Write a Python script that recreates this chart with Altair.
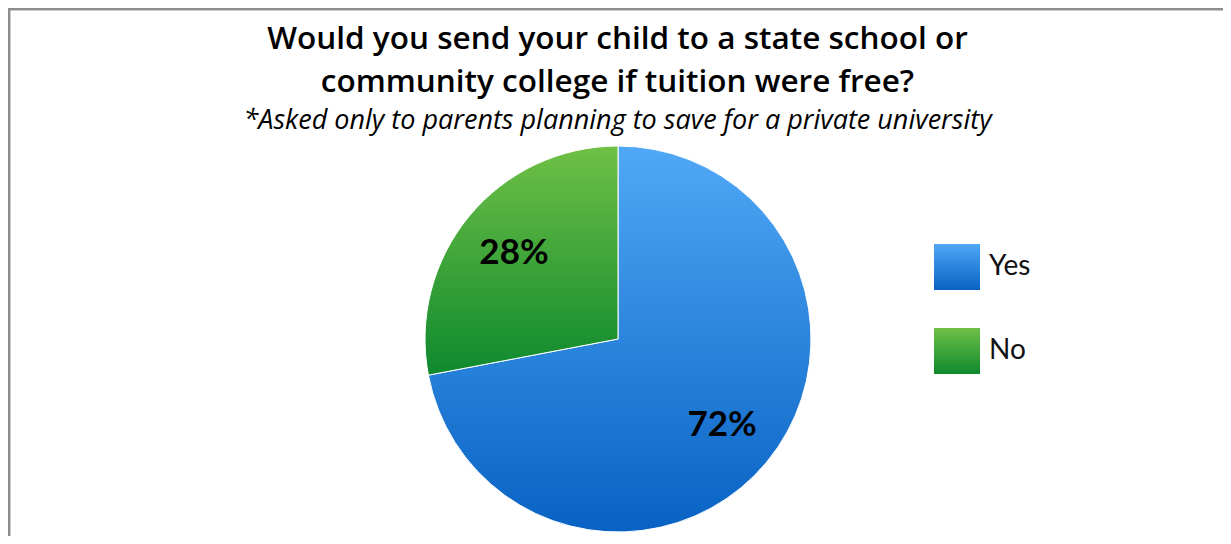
import altair as alt
import pandas as pd

categories = ["Yes", "No"]
values = [72, 28]
labels = ["72%", "28%"]
order = [1, 2]

title_lines = ["Would you send your child to a state school or",
               "community college if tuition were free?"]
subtitle = "*Asked only to parents planning to save for a private university"

df = pd.DataFrame({"category": categories, "value": values,
                   "label": labels, "order": order})

grad_yes = {"gradient": "linear", "x1": 0, "y1": 0, "x2": 0, "y2": 1,
            "stops": [{"offset": 0, "color": "#50A8F6"},
                      {"offset": 1, "color": "#0862C3"}]}
grad_no = {"gradient": "linear", "x1": 0, "y1": 0, "x2": 0, "y2": 1,
           "stops": [{"offset": 0, "color": "#6FC046"},
                     {"offset": 1, "color": "#0E892E"}]}

fill_cond = alt.condition(alt.datum.category == "Yes",
                          alt.value(grad_yes), alt.value(grad_no))

FONT = "Lato"
TFONT = "Open Sans"
W, H = 1215, 528
CX, CY = 610, 331

base = alt.Chart(df)

pie = base.mark_arc(radius=193, stroke="white", strokeWidth=1).encode(
    theta=alt.Theta("value:Q", stack=True),
    order=alt.Order("order:Q"),
    fill=fill_cond,
    x=alt.value(CX), y=alt.value(CY),
)

pct = base.mark_text(radius=135, font=FONT, fontSize=35, fontWeight="bold",
                     color="black", align="center", baseline="middle").encode(
    theta=alt.Theta("value:Q", stack=True),
    order=alt.Order("order:Q"),
    text="label:N",
    x=alt.value(CX), y=alt.value(CY),
)

yscale = alt.Scale(domain=categories, range=[259, 343], padding=0)

swatch = base.mark_point(shape="square", size=2116, filled=True,
                         strokeWidth=0, opacity=1).encode(
    y=alt.Y("category:N", scale=yscale, axis=None),
    x=alt.value(949),
    fill=fill_cond,
)

legend_text = base.mark_text(font=FONT, fontSize=28, align="left",
                             baseline="middle", color="#111111").encode(
    y=alt.Y("category:N", scale=yscale, axis=None),
    x=alt.value(981),
    text="category:N",
)

border_top = alt.Chart(df).mark_rule(color="#8C8C8C", strokeWidth=2.5).encode(
    x=alt.value(0), x2=alt.value(W), y=alt.value(1))
border_left = alt.Chart(df).mark_rule(color="#8C8C8C", strokeWidth=2.5).encode(
    y=alt.value(0), y2=alt.value(H), x=alt.value(1))

chart = alt.layer(border_top, border_left, pie, pct, swatch, legend_text).properties(
    width=W, height=H,
    autosize=alt.AutoSizeParams(type="none"),
    padding=0,
    title=alt.TitleParams(
        text=title_lines, subtitle=subtitle,
        anchor="middle", frame="group", orient="top",
        font=TFONT, fontSize=31.5, fontWeight=600, color="black",
        lineHeight=43.5, baseline="top",
        subtitleFont=TFONT, subtitleFontSize=27, subtitleFontStyle="italic",
        subtitleColor="black", subtitlePadding=9,
        offset=-127, dx=2,
    ),
).configure_view(stroke=None)

chart.save("out.html", embed_options={"renderer": "svg", "actions": False})
